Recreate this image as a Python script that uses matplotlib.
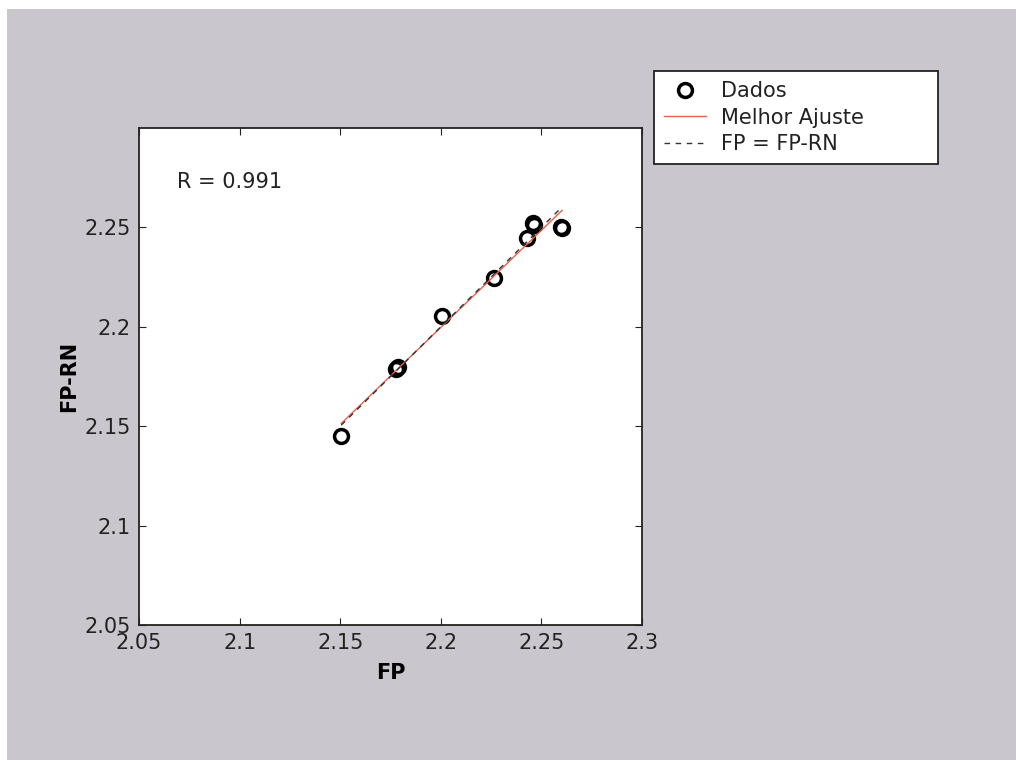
import numpy as np
import matplotlib.pyplot as plt
from matplotlib.patches import Rectangle

plt.rcParams['font.family'] = ['DejaVu Sans']

# data
fp = [2.1505, 2.1777, 2.1785, 2.2006, 2.2264, 2.2429, 2.2457, 2.2462, 2.2597, 2.2603]
fp_rn = [2.1450, 2.1788, 2.1800, 2.2054, 2.2244, 2.2446, 2.2522, 2.2512, 2.2500, 2.2495]
r_value = 0.991
xticks = [2.05, 2.1, 2.15, 2.2, 2.25, 2.3]
xticklabels = ['2.05', '2.1', '2.15', '2.2', '2.25', '2.3']
yticks = [2.05, 2.1, 2.15, 2.2, 2.25]
yticklabels = ['2.05', '2.1', '2.15', '2.2', '2.25']

fp = np.array(fp)
fp_rn = np.array(fp_rn)
a, b = np.polyfit(fp, fp_rn, 1)
xl = np.array([fp.min(), fp.max()])

W, H = 1016, 760
fig = plt.figure(figsize=(W / 100, H / 100), dpi=100)
fig.patch.set_facecolor('white')
fig.patches.append(Rectangle((7 / W, 0), 1, 1 - 9 / H, transform=fig.transFigure,
                             facecolor='#c9c7cd', edgecolor='none', zorder=-10))

ax = fig.add_axes([139 / W, 135 / H, 503 / W, 497 / H])
ax.set_facecolor('white')

h1, = ax.plot(fp, fp_rn, 'o', mfc='none', mec='black', ms=10, mew=2.5, label='Dados')
h2, = ax.plot(xl, a * xl + b, color='#e8604c', lw=1, label='Melhor Ajuste')
h3, = ax.plot(xl, xl, '--', color='#333333', lw=1, dashes=(4, 4), label='FP = FP-RN')

ax.set_xlim(2.05, 2.3)
ax.set_ylim(2.05, 2.3)
ax.set_xticks(xticks)
ax.set_xticklabels(xticklabels)
ax.set_yticks(yticks)
ax.set_yticklabels(yticklabels)
ax.tick_params(direction='in', top=True, right=True, labelsize=15, length=5,
               colors='#222222')
ax.tick_params(axis='x', pad=6)
ax.tick_params(axis='y', pad=6)
for s in ax.spines.values():
    s.set_color('#222222')
    s.set_linewidth(1.3)

ax.set_xlabel('FP', fontsize=15, fontweight='bold', labelpad=7)
ax.set_ylabel('FP-RN', fontsize=15, fontweight='bold', labelpad=4)
ax.text((177 - 139) / 503, (625 - 182) / 497, 'R = %.3f' % r_value, fontsize=15,
        va='center', ha='left', color='#222222', transform=ax.transAxes)

leg = fig.legend(handles=[h1, h2, h3], loc='upper left',
                 bbox_to_anchor=(654 / W, 1 - 166 / H, 284 / W, 95 / H), mode='expand',
                 fontsize=15, frameon=True, fancybox=False, borderpad=0.5,
                 labelspacing=0.3, handlelength=2.0, handletextpad=0.7,
                 borderaxespad=0, framealpha=1, facecolor='white')
leg.get_frame().set_edgecolor('#222222')
leg.get_frame().set_linewidth(1.3)
for t in leg.get_texts():
    t.set_color('#222222')

fig.savefig('out.png', dpi=100)
